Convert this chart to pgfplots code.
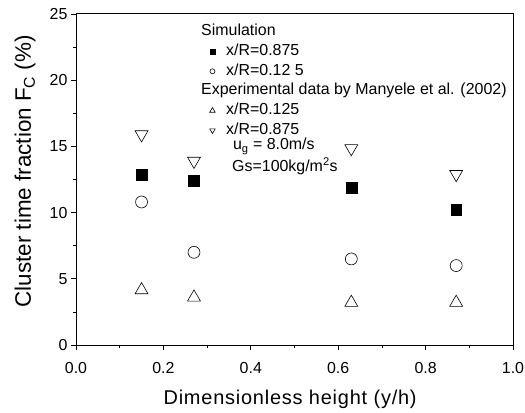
\documentclass[border=0pt]{standalone}
\usepackage{fontspec}
\setmainfont{Liberation Sans}
\newfontfamily\lsfont[LetterSpace=4]{Liberation Sans}
\usepackage{pgfplots}
\pgfplotsset{compat=1.18}
\begin{document}
\begin{tikzpicture}
\begin{axis}[
  scale only axis, width=437bp, height=331bp,
  xmin=0, xmax=1, ymin=0, ymax=25,
  xtick={0,0.2,0.4,0.6,0.8,1.0}, minor xtick={0.1,0.3,0.5,0.7,0.9},
  ytick={0,5,10,15,20,25}, minor ytick={2.5,7.5,12.5,17.5,22.5},
  x tick label style={/pgf/number format/.cd, fixed, fixed zerofill, precision=1, /tikz/.cd, yshift=-9bp},
  /pgf/number format/assume math mode=true,
  tick align=outside, tick pos=left,
  major tick length=5bp, minor tick length=3bp,
  tick style={black, line width=0.8pt},
  axis line style={line width=1pt},
  ticklabel style={font=\fontsize{16}{19}\selectfont},
  xlabel={\lsfont Dimensionless height (y/h)},
  ylabel={Cluster time fraction F\textsubscript{C} (\%)},
  xlabel style={font=\fontsize{20}{24}\selectfont, at={(axis description cs:0.49,0)}, yshift=-59bp, anchor=base},
  ylabel style={font=\fontsize{22.5}{27}\selectfont, at={(axis description cs:0,0.525)}, anchor=base, yshift=45bp},
  legend style={at={(rel axis cs:0.3055,0.9707)}, anchor=north west, draw=none, fill=none,
    font=\fontsize{16}{19}\selectfont, row sep=3.7bp, column sep=11bp, inner sep=0pt,
    nodes={inner sep=0pt, text height=12bp, text depth=4bp}},
  legend cell align=left,
]
\addlegendimage{empty legend}
\addlegendentry{\hspace{-25bp}Simulation}
\addplot[only marks, black, mark=square*, mark size=5.5,
  legend image code/.code={\draw plot[mark=square*, mark size=2.5] coordinates {(0cm,0cm)};}]
  coordinates {(0.15,12.85) (0.27,12.4) (0.63,11.9) (0.87,10.2)};
\addlegendentry{x/R=0.875}
\addplot[only marks, black, mark=o, mark size=6, mark options={line width=0.6pt},
  legend image code/.code={\draw plot[mark=o, mark size=2.5, mark options={line width=0.6pt}] coordinates {(0cm,0cm)};}]
  coordinates {(0.15,10.8) (0.27,7.0) (0.63,6.5) (0.87,6.0)};
\addlegendentry{x/R=0.12 5}
\addlegendimage{empty legend}
\addlegendentry{\hspace{-25bp}Experimental data by Manyele et al. (2002)}
\addplot[only marks, black, mark=triangle, mark size=7.5, mark options={line width=0.6pt},
  legend image code/.code={\draw plot[mark=triangle, mark size=3.2, mark options={line width=0.6pt}] coordinates {(0cm,0cm)};}]
  coordinates {(0.15,4.15) (0.27,3.6) (0.63,3.2) (0.87,3.2)};
\addlegendentry{x/R=0.125}
\addplot[only marks, black, mark=triangle, mark size=7.5, mark options={line width=0.6pt, rotate=180},
  legend image code/.code={\draw plot[mark=triangle, mark size=3.2, mark options={line width=0.6pt, rotate=180}] coordinates {(0cm,0cm)};}]
  coordinates {(0.15,15.9) (0.27,13.9) (0.63,14.85) (0.87,12.9)};
\addlegendentry{x/R=0.875}
\node[anchor=base west, font=\fontsize{16}{19}\selectfont, inner sep=0pt] at (axis cs:0.359,14.73) {u\textsubscript{g} = 8.0m/s};
\node[anchor=base west, font=\fontsize{16}{19}\selectfont, inner sep=0pt] at (axis cs:0.357,13.09) {Gs=100kg/m\textsuperscript{2}s};
\end{axis}
\pgfresetboundingbox
\useasboundingbox ([shift={(-76bp,-68bp)}]current axis.south west) rectangle ([shift={(12bp,14bp)}]current axis.north east);
\end{tikzpicture}
\end{document}
